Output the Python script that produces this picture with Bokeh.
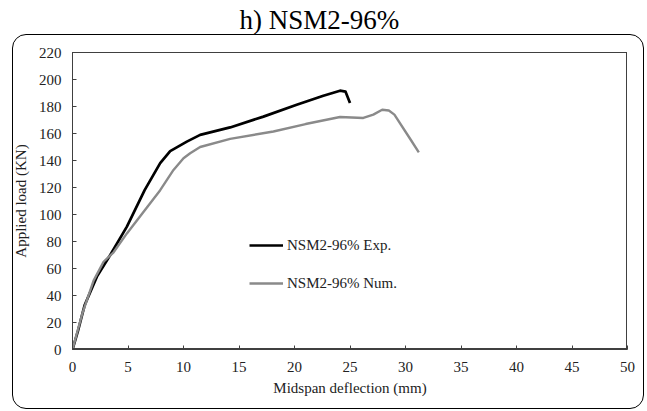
from bokeh.plotting import figure
from bokeh.models import Range1d, Legend, LegendItem, FixedTicker, InlineStyleSheet
from bokeh.embed import file_html
from bokeh.resources import INLINE

# ---- data ----
exp_x = [0, 0.5, 1.1, 2.2, 3.4, 4.9, 6.5, 7.9, 8.8, 10.3, 11.5, 14.2, 17.2, 20.2, 22.6, 24.1, 24.6, 25.0]
exp_y = [0, 14, 33, 54, 70, 91, 118, 138, 147, 154, 159, 164.5, 172.5, 181.3, 188, 191.7, 191, 182.6]

num_x = [0, 0.9, 1.9, 2.8, 3.7, 4.9, 7.9, 9.1, 10.0, 10.6, 11.5, 14.2, 18.1, 21.0, 24.1, 26.2, 27.1, 27.9, 28.5, 29.0, 30.5, 31.2]
num_y = [0, 27, 51, 65, 72, 86, 118, 133, 141.7, 145.4, 150, 156, 161.5, 167, 172.2, 171.5, 174, 177.6, 177, 174, 155, 146]

x_ticks = [0, 5, 10, 15, 20, 25, 30, 35, 40, 45, 50]
y_ticks = [0, 20, 40, 60, 80, 100, 120, 140, 160, 180, 200, 220]

title_text = "h) NSM2-96%"
x_label = "Midspan deflection (mm)"
y_label = "Applied load (KN)"
exp_name = "NSM2-96% Exp."
num_name = "NSM2-96% Num."

FONT = "Liberation Serif"
AX = "#404040"

# decorations: plot-frame outline and the outer rounded panel border (CSS only)
deco_css = InlineStyleSheet(css="""
:host { position: relative; }
:host::before {
  content: "";
  position: absolute;
  left: 72px; top: 52px;
  width: 555px; height: 297px;
  box-sizing: border-box;
  border: 1px solid #404040;
  pointer-events: none;
  z-index: 5;
}
:host::after {
  content: "";
  position: absolute;
  left: 12px; top: 34px;
  width: 632px; height: 375px;
  box-sizing: border-box;
  border: 1.6px solid #000;
  border-radius: 14px;
  pointer-events: none;
  z-index: 5;
}
""")

p = figure(width=647, height=411, output_backend="svg", toolbar_location=None,
           x_range=Range1d(0, 50), y_range=Range1d(0, 220),
           min_border_left=72, min_border_right=20, min_border_top=52, min_border_bottom=62,
           title=title_text, stylesheets=[deco_css])

p.title.text_font = FONT
p.title.text_font_size = "27px"
p.title.text_font_style = "normal"
p.title.text_color = "black"
p.title.align = "left"
p.title.offset = 167
p.title.vertical_align = "top"
p.title.standoff = 2
p.title.padding = dict(top=0, right=0, bottom=15, left=0)

p.background_fill_color = "white"
p.border_fill_color = "white"
p.outline_line_color = None
p.xgrid.visible = False
p.ygrid.visible = False

for ax, ticks in ((p.xaxis[0], x_ticks), (p.yaxis[0], y_ticks)):
    ax.ticker = FixedTicker(ticks=ticks)
    ax.minor_tick_line_color = None
    ax.major_tick_in = 4
    ax.major_tick_out = 0
    ax.major_tick_line_color = AX
    ax.axis_line_color = AX
    ax.major_label_text_font = FONT
    ax.major_label_text_font_size = "15px"
    ax.major_label_text_color = "#222222"
    ax.axis_label_text_font = FONT
    ax.axis_label_text_font_size = "15px"
    ax.axis_label_text_font_style = "normal"
    ax.axis_label_text_color = "#222222"

p.xaxis.axis_label = x_label
p.yaxis.axis_label = y_label
p.xaxis.major_label_standoff = 12
p.xaxis.axis_label_standoff = 5
p.yaxis.major_label_standoff = 11
p.yaxis.axis_label_standoff = 7

r_exp = p.line(exp_x, exp_y, line_color="black", line_width=2.7, line_join="round")
r_num = p.line(num_x, num_y, line_color="#8a8a8a", line_width=2.4, line_join="round")

legend = Legend(items=[LegendItem(label=exp_name, renderers=[r_exp]),
                       LegendItem(label=num_name, renderers=[r_num])],
                location=(177, 56), padding=0, margin=0, spacing=18,
                glyph_width=34, glyph_height=20, label_standoff=4,
                label_text_font=FONT, label_text_font_size="15px",
                label_text_color="#222222",
                border_line_color=None, background_fill_alpha=0)
p.add_layout(legend, "center")

open("out.html", "w").write(file_html(p, INLINE))
